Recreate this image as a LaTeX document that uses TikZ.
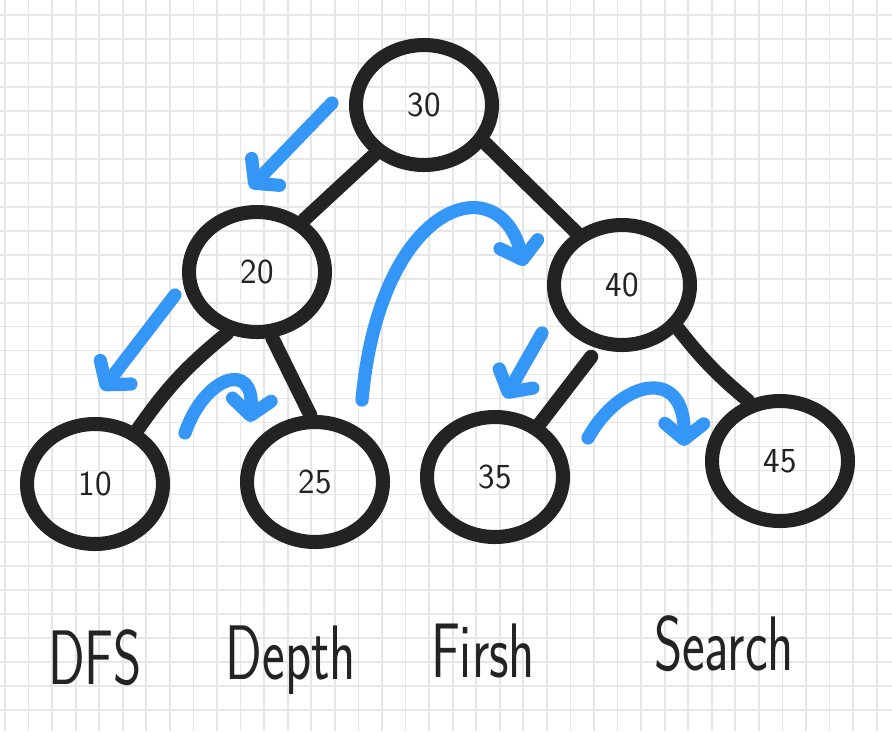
\documentclass[tikz,border=0pt]{standalone}
\usepackage{tikz}
\usetikzlibrary{arrows.meta,positioning,shapes.geometric}
\usepackage{xcolor}
\definecolor{ink}{HTML}{232323}
\definecolor{pen}{HTML}{3496F7}
\definecolor{paper}{HTML}{E6E6E6}
\newcommand{\narrow}[1]{\scalebox{0.7}[1]{#1}}

\begin{document}
\begin{tikzpicture}[
    x=0.02cm, y=-0.02cm,
    vertex/.style={draw=ink, ellipse, line width=8pt, minimum width=2.72cm, minimum height=2.4cm, inner sep=0pt, font=\sffamily\fontsize{20}{24}\selectfont, text=ink},
    edge/.style={draw=ink, line width=8pt, line cap=round},
    flow/.style={draw=pen, line width=7.5pt, line cap=round, -{Straight Barb[length=9pt, width=22pt, round]}},
    word/.style={anchor=base, font=\sffamily\fontsize{44}{48}\selectfont, text=ink},
    gridline/.style={draw=paper, line width=1pt}
]

% Paper
\useasboundingbox (0,0) rectangle (892,731);
\fill[white] (0,0) rectangle (892,731);
\foreach \i in {0,...,37} \draw[gridline] ({5+23.56*\i},0) -- ({5+23.56*\i},731);
\foreach \j in {0,...,29} \draw[gridline] (0,{15+23.97*\j}) -- (892,{15+23.97*\j});

% Tree nodes
\node[vertex] (n30) at (424,105) {30};
\node[vertex] (n20) at (257,272) {20};
\node[vertex] (n40) at (622,285) {40};
\node[vertex] (n10) at (95,484) {10};
\node[vertex] (n25) at (315,482) {25};
\node[vertex] (n35) at (495,477) {35};
\node[vertex] (n45) at (780,461) {45};

% Tree edges
\draw[edge] (n30.225) -- (n20.48);
\draw[edge] (n30.-32) -- (n40.131);
\draw[edge] (n20.244) to[bend right=8] (n10.52);
\draw[edge] (n20.-77) -- (n25.94);
\draw[edge, shorten <=6pt] (n40.249) -- (n35.50);
\draw[edge] (n40.-38) to[bend right=6] (n45.118);

% Traversal arrows
\coordinate (p1) at (332,103); \coordinate (q1) at (250,188);
\coordinate (p2) at (175,295); \coordinate (q2) at (102,390);
\coordinate (p3) at (185,433); \coordinate (q3) at (250,422);
\coordinate (p4) at (362,400); \coordinate (q4) at (524,266);
\coordinate (p5) at (542,333); \coordinate (q5) at (505,398);
\coordinate (p6) at (588,438); \coordinate (q6) at (684,446);

\draw[flow] (p1) -- (q1);
\draw[flow] (p2) -- (q2);
\draw[flow] (p3) .. controls (205,375) and (255,360) .. (q3);
\draw[flow] (p4) .. controls (380,200) and (500,165) .. (q4);
\draw[flow] (p5) -- (q5);
\draw[flow] (p6) .. controls (620,380) and (685,365) .. (q6);

% Caption
\node[word] (dfs) at (95,684) {\narrow{DFS}};
\node[word] (depth) at (291,679) {\narrow{Depth}};
\node[word] (first) at (483,677) {\narrow{Firsh}};
\node[word] (search) at (724,670) {\narrow{Search}};

\end{tikzpicture}
\end{document}
